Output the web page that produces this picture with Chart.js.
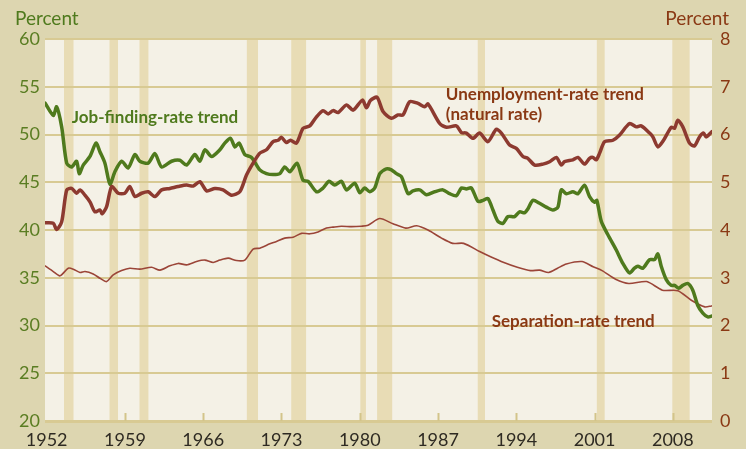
<!DOCTYPE html>
<html>
<head>
<meta charset="utf-8">
<script src="https://cdn.jsdelivr.net/npm/chart.js@4.4.1/dist/chart.umd.min.js"></script>
<style>
  html, body { margin: 0; padding: 0; background: #ddd6b0; }
  #wrap { width: 746px; height: 449px; }
</style>
</head>
<body>
<div id="wrap"><canvas id="trendChart" width="746" height="449"></canvas></div>
<script>
// job-finding rate trend (left axis, percent)
var jobYears = [1951.85, 1952.59, 1952.89, 1953.34, 1953.79, 1954.23, 1954.68, 1954.91, 1955.27, 1955.87,
  1956.41, 1956.76, 1957.21, 1957.66, 1958.10, 1958.70, 1959.29, 1959.89, 1960.33, 1961.08,
  1961.68, 1962.28, 1963.17, 1963.91, 1964.51, 1965.25, 1965.70, 1966.15, 1966.75, 1967.49,
  1967.93, 1968.44, 1968.83, 1969.21, 1969.72, 1970.32, 1971.06, 1971.66, 1972.25, 1972.85,
  1973.29, 1973.74, 1974.39, 1974.93, 1975.38, 1976.13, 1976.72, 1977.25, 1977.76, 1978.36,
  1978.81, 1979.55, 1980.00, 1980.44, 1980.89, 1981.34, 1981.79, 1982.38, 1982.83, 1983.28,
  1983.72, 1984.32, 1984.76, 1985.36, 1985.96, 1986.70, 1987.44, 1988.04, 1988.64, 1989.09,
  1989.53, 1989.98, 1990.57, 1991.02, 1991.46, 1991.91, 1992.36, 1992.80, 1993.25, 1993.85,
  1994.29, 1994.74, 1995.03, 1995.48, 1996.08, 1996.68, 1997.27, 1997.72, 1998.02, 1998.47,
  1999.06, 1999.51, 2000.10, 2000.55, 2001.00, 2001.20, 2001.60, 2002.19, 2002.94, 2003.53,
  2004.13, 2004.57, 2004.87, 2005.32, 2005.92, 2006.36, 2006.66, 2006.96, 2007.41, 2007.85,
  2008.15, 2008.53, 2008.89, 2009.34, 2009.78, 2010.23, 2010.68, 2011.12, 2011.50];
var jobRate = [53.3, 52.0, 52.9, 50.8, 47.0, 46.6, 47.2, 45.9, 46.8, 47.7,
  49.1, 48.2, 47.0, 44.8, 46.1, 47.2, 46.5, 47.9, 47.2, 47.0,
  48.0, 46.6, 47.2, 47.3, 46.8, 47.9, 47.2, 48.4, 47.7, 48.4,
  49.1, 49.6, 48.7, 49.1, 47.9, 47.6, 46.3, 45.9, 45.8, 45.9,
  46.6, 46.1, 47.0, 45.2, 45.1, 44.0, 44.4, 45.1, 44.7, 45.1,
  44.2, 44.9, 43.9, 44.4, 44.0, 44.4, 45.9, 46.4, 46.3, 45.9,
  45.6, 43.8, 44.1, 44.2, 43.7, 44.0, 44.2, 43.8, 43.6, 44.4,
  44.3, 44.4, 43.0, 43.1, 43.3, 42.1, 40.9, 40.7, 41.4, 41.4,
  41.9, 41.8, 42.2, 43.1, 42.8, 42.4, 42.1, 42.4, 44.2, 43.8,
  44.0, 43.8, 44.7, 43.5, 42.9, 43.1, 40.9, 39.5, 37.9, 36.5,
  35.5, 36.0, 36.2, 36.0, 36.9, 36.9, 37.5, 36.2, 34.8, 34.2,
  34.2, 33.9, 34.2, 34.4, 33.7, 32.1, 31.3, 30.9, 31.0];

// unemployment-rate trend, natural rate (right axis, percent)
var unempYears = [1951.85, 1952.59, 1952.89, 1953.34, 1953.79, 1954.23, 1954.68, 1954.98, 1955.42, 1955.87,
  1956.32, 1956.76, 1956.97, 1957.36, 1957.81, 1958.40, 1958.99, 1959.44, 1959.89, 1960.49,
  1961.08, 1961.68, 1962.28, 1963.02, 1963.76, 1964.51, 1965.10, 1965.70, 1966.30, 1967.04,
  1967.78, 1968.53, 1969.27, 1969.87, 1970.46, 1971.06, 1971.66, 1972.25, 1972.70, 1973.00,
  1973.44, 1973.80, 1974.34, 1974.93, 1975.53, 1976.13, 1976.72, 1977.17, 1977.61, 1978.06,
  1978.81, 1979.40, 1980.24, 1980.60, 1980.95, 1981.55, 1982.08, 1982.83, 1983.42, 1983.87,
  1984.47, 1985.21, 1985.81, 1986.10, 1987.15, 1987.75, 1988.64, 1989.09, 1989.53, 1990.12,
  1990.72, 1991.46, 1992.21, 1992.66, 1993.40, 1994.00, 1994.59, 1995.03, 1995.64, 1996.38,
  1996.98, 1997.58, 1998.02, 1998.31, 1999.06, 1999.51, 2000.10, 2000.55, 2000.85, 2001.15,
  2001.45, 2001.89, 2002.64, 2003.24, 2004.13, 2004.73, 2005.17, 2005.92, 2006.21, 2006.66,
  2007.17, 2007.85, 2008.15, 2008.44, 2008.89, 2009.49, 2009.93, 2010.38, 2010.74, 2010.98,
  2011.50];
var unempRate = [4.15, 4.14, 4.01, 4.17, 4.84, 4.87, 4.77, 4.84, 4.73, 4.59,
  4.38, 4.42, 4.34, 4.49, 4.91, 4.77, 4.77, 4.91, 4.70, 4.77,
  4.80, 4.70, 4.84, 4.87, 4.91, 4.94, 4.92, 5.01, 4.82, 4.87,
  4.84, 4.73, 4.80, 5.15, 5.40, 5.61, 5.68, 5.85, 5.88, 5.94,
  5.83, 5.88, 5.82, 6.13, 6.18, 6.37, 6.50, 6.43, 6.50, 6.46,
  6.62, 6.51, 6.72, 6.56, 6.71, 6.78, 6.48, 6.34, 6.41, 6.41,
  6.69, 6.65, 6.58, 6.64, 6.23, 6.15, 6.18, 6.04, 6.03, 5.92,
  6.03, 5.85, 6.11, 6.03, 5.78, 5.71, 5.54, 5.50, 5.36, 5.38,
  5.43, 5.52, 5.36, 5.43, 5.47, 5.52, 5.38, 5.50, 5.52, 5.47,
  5.61, 5.85, 5.88, 5.99, 6.23, 6.16, 6.18, 6.03, 5.95, 5.74,
  5.88, 6.15, 6.13, 6.30, 6.16, 5.82, 5.76, 5.95, 6.03, 5.95,
  6.06];

// separation-rate trend (right axis, percent)
var sepYears = [1951.85, 1952.59, 1953.19, 1953.93, 1954.38, 1954.98, 1955.42, 1956.16, 1956.76, 1957.36,
  1957.95, 1958.70, 1959.44, 1960.33, 1961.38, 1962.13, 1963.02, 1963.76, 1964.51, 1965.40,
  1966.15, 1966.89, 1967.49, 1968.23, 1968.98, 1969.72, 1970.46, 1971.06, 1971.96, 1972.55,
  1973.29, 1974.04, 1974.79, 1975.53, 1976.27, 1977.02, 1977.61, 1978.36, 1979.26, 1980.15,
  1980.74, 1981.79, 1982.97, 1984.11, 1985.09, 1986.10, 1987.31, 1988.31, 1989.29, 1990.72,
  1991.70, 1992.89, 1994.09, 1995.27, 1996.08, 1996.89, 1997.69, 1998.47, 1999.87, 2000.87,
  2001.67, 2002.88, 2004.06, 2005.66, 2007.06, 2008.45, 2009.65, 2010.85, 2011.46];
var sepRate = [3.25, 3.13, 3.04, 3.20, 3.18, 3.11, 3.13, 3.08, 2.99, 2.92,
  3.06, 3.15, 3.20, 3.18, 3.22, 3.16, 3.25, 3.30, 3.27, 3.34,
  3.37, 3.32, 3.37, 3.41, 3.36, 3.37, 3.60, 3.62, 3.71, 3.76,
  3.83, 3.85, 3.93, 3.92, 3.96, 4.04, 4.06, 4.08, 4.07, 4.08,
  4.10, 4.24, 4.13, 4.04, 4.09, 4.00, 3.83, 3.72, 3.72, 3.55,
  3.44, 3.32, 3.22, 3.15, 3.16, 3.11, 3.20, 3.29, 3.34, 3.23,
  3.15, 2.97, 2.88, 2.92, 2.74, 2.73, 2.53, 2.39, 2.41];

// recession shading
var recessionStart = [1953.55, 1957.62, 1960.3, 1969.9, 1973.87, 1980.05, 1981.55, 1990.55, 2001.2, 2007.95];
var recessionEnd   = [1954.4, 1958.38, 1961.1, 1970.9, 1975.2, 1980.55, 1982.9, 1991.2, 2001.9, 2009.5];

var yearTicks = [1952, 1959, 1966, 1973, 1980, 1987, 1994, 2001, 2008];
var leftTicks = [20, 25, 30, 35, 40, 45, 50, 55, 60];
var rightTicks = [0, 1, 2, 3, 4, 5, 6, 7, 8];

function toPoints(xs, ys) {
  return xs.map(function (x, i) { return { x: x, y: ys[i] }; });
}

var GREEN = '#4f7a1d';
var RED = '#8d3a30';
var BROWN = '#8a3914';
var FONT = 'Lato, "Open Sans", sans-serif';

// series labels, anchored in data units
var seriesLabels = [
  { text: 'Job-finding-rate trend', x: 1954.25, y: 51.8, axis: 'y', color: GREEN },
  { text: 'Unemployment-rate trend', x: 1987.7, y: 6.84, axis: 'y2', color: BROWN },
  { text: '(natural rate)', x: 1987.7, y: 6.42, axis: 'y2', color: BROWN },
  { text: 'Separation-rate trend', x: 1991.8, y: 2.08, axis: 'y2', color: BROWN }
];

var decorPlugin = {
  id: 'decor',
  beforeDraw: function (chart) {
    var ctx = chart.ctx, a = chart.chartArea, xs = chart.scales.x;
    ctx.save();
    ctx.fillStyle = '#ddd6b0';
    ctx.fillRect(0, 0, chart.width, chart.height);
    ctx.fillStyle = '#f4f1e6';
    ctx.fillRect(a.left, a.top, a.right - a.left, a.bottom - a.top);
    ctx.fillStyle = '#e8dcb5';
    for (var i = 0; i < recessionStart.length; i++) {
      var x0 = xs.getPixelForValue(recessionStart[i]);
      var x1 = xs.getPixelForValue(recessionEnd[i]);
      ctx.fillRect(x0, a.top, x1 - x0, a.bottom - a.top);
    }
    ctx.restore();
  },
  afterDraw: function (chart) {
    var ctx = chart.ctx, a = chart.chartArea, xs = chart.scales.x;
    ctx.save();
    // small year tick marks rising from the bottom line
    ctx.strokeStyle = '#d3c48a';
    ctx.lineWidth = 2;
    yearTicks.forEach(function (t) {
      if (t === yearTicks[0]) return;
      var px = Math.round(xs.getPixelForValue(t)) + 0.5;
      ctx.beginPath();
      ctx.moveTo(px, a.bottom);
      ctx.lineTo(px, a.bottom - 8);
      ctx.stroke();
    });
    // axis titles
    ctx.font = '19px ' + FONT;
    ctx.textBaseline = 'middle';
    ctx.fillStyle = GREEN;
    ctx.textAlign = 'left';
    ctx.fillText('Percent', 15, 19);
    ctx.fillStyle = BROWN;
    ctx.textAlign = 'right';
    ctx.fillText('Percent', 729, 19);
    // series labels
    ctx.font = 'bold 17px ' + FONT;
    ctx.textAlign = 'left';
    seriesLabels.forEach(function (l) {
      ctx.fillStyle = l.color;
      ctx.fillText(l.text, xs.getPixelForValue(l.x), chart.scales[l.axis].getPixelForValue(l.y));
    });
    ctx.restore();
  }
};

new Chart(document.getElementById('trendChart'), {
  type: 'line',
  data: {
    datasets: [
      { label: 'Unemployment-rate trend', data: toPoints(unempYears, unempRate), yAxisID: 'y2',
        borderColor: RED, borderWidth: 3.5 },
      { label: 'Job-finding-rate trend', data: toPoints(jobYears, jobRate), yAxisID: 'y',
        borderColor: GREEN, borderWidth: 3.5 },
      { label: 'Separation-rate trend', data: toPoints(sepYears, sepRate), yAxisID: 'y2',
        borderColor: '#9b4538', borderWidth: 1.6 }
    ]
  },
  options: {
    responsive: false,
    animation: false,
    devicePixelRatio: 1,
    layout: { padding: { top: 39, left: 0, right: 0, bottom: 0 } },
    elements: {
      point: { radius: 0 },
      line: { tension: 0.25, borderJoinStyle: 'round', borderCapStyle: 'round' }
    },
    plugins: { legend: { display: false }, tooltip: { enabled: false } },
    scales: {
      x: {
        type: 'linear', min: 1951.85, max: 2011.5,
        afterBuildTicks: function (s) { s.ticks = yearTicks.map(function (v) { return { value: v }; }); },
        afterFit: function (s) { s.height = 28; },
        grid: { display: false },
        border: { display: false },
        ticks: { color: '#2e2a22', font: { family: FONT, size: 18 }, padding: 0, maxRotation: 0,
          callback: function (v) { return String(v); } }
      },
      y: {
        position: 'left', min: 20, max: 60,
        afterBuildTicks: function (s) { s.ticks = leftTicks.map(function (v) { return { value: v }; }); },
        afterFit: function (s) { s.width = 45; },
        border: { display: false },
        grid: { color: '#d8ca93', drawTicks: false,
          lineWidth: function (c) { return c.tick && c.tick.value === 20 ? 3 : 2; } },
        ticks: { color: '#5a7d22', font: { family: FONT, size: 18 }, padding: 5 }
      },
      y2: {
        position: 'right', min: 0, max: 8,
        afterBuildTicks: function (s) { s.ticks = rightTicks.map(function (v) { return { value: v }; }); },
        afterFit: function (s) { s.width = 34; },
        border: { display: false },
        grid: { display: false, drawTicks: false },
        ticks: { color: BROWN, font: { family: FONT, size: 18 }, padding: 8 }
      }
    }
  },
  plugins: [decorPlugin]
});
</script>
</body>
</html>
